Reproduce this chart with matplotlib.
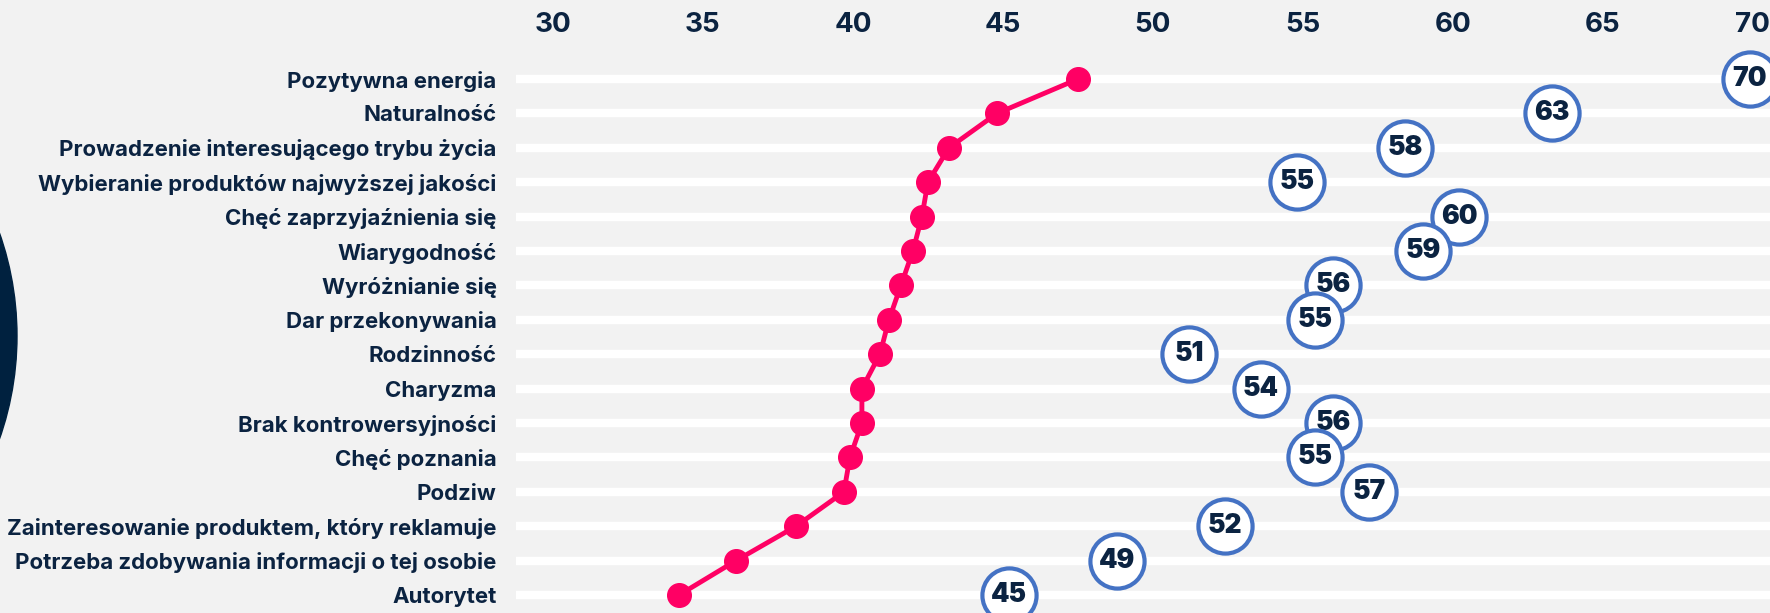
import matplotlib
matplotlib.use('Agg')
import matplotlib.pyplot as plt
from matplotlib.patches import Circle
from matplotlib.transforms import ScaledTranslation

plt.rcParams['font.family'] = ['Inter', 'DejaVu Sans']

categories = [
    "Pozytywna energia",
    "Naturalność",
    "Prowadzenie interesującego trybu życia",
    "Wybieranie produktów najwyższej jakości",
    "Chęć zaprzyjaźnienia się",
    "Wiarygodność",
    "Wyróżnianie się",
    "Dar przekonywania",
    "Rodzinność",
    "Charyzma",
    "Brak kontrowersyjności",
    "Chęć poznania",
    "Podziw",
    "Zainteresowanie produktem, który reklamuje",
    "Potrzeba zdobywania informacji o tej osobie",
    "Autorytet",
]
pink_values = [47.5, 44.8, 43.2, 42.5, 42.3, 42.0, 41.6, 41.2,
               40.9, 40.3, 40.3, 39.9, 39.7, 38.1, 36.1, 34.2]
blue_values = [69.9, 63.3, 58.4, 54.8, 60.2, 59.0, 56.0, 55.4,
               51.2, 53.6, 56.0, 55.4, 57.2, 52.4, 48.8, 45.2]
x_ticks = [30, 35, 40, 45, 50, 55, 60, 65, 70]

navy = '#0b2341'
pink = '#ff0064'
blue = '#4472c4'
bg = '#f2f2f2'

fig = plt.figure(figsize=(17.7, 6.13), dpi=100, facecolor=bg)
ax = fig.add_axes([516 / 1770, 0, 1 - 516 / 1770, (613 - 45) / 613])
ax.set_facecolor(bg)

rows = list(range(len(categories)))

# white row bars
ax.set_yticks(rows)
ax.set_yticklabels(categories, fontsize=16, fontweight='bold', color=navy)
ax.grid(axis='y', color='white', linewidth=6)
ax.grid(axis='x', visible=False)
ax.set_axisbelow(True)

# labels sit a little above the bars
shift = ScaledTranslation(0, 3 / 100, fig.dpi_scale_trans)
for lab in ax.get_yticklabels():
    lab.set_transform(lab.get_transform() + shift)

ax.plot(pink_values, rows, color=pink, linewidth=3.5, marker='o',
        markersize=17, zorder=5)

for i, v in enumerate(blue_values):
    ax.plot(v, i, 'o', markersize=39, markerfacecolor='white',
            markeredgecolor=blue, markeredgewidth=3, zorder=10 + 2 * i,
            clip_on=False)
    ax.text(v, i, f"{v:.0f}", ha='center', va='center', fontsize=19,
            fontweight='black', color=navy, zorder=11 + 2 * i)

ax.set_xlim(28.77, 70.57)
ax.set_ylim(15.52, -0.99)
ax.set_xticks(x_ticks)
ax.xaxis.tick_top()
ax.tick_params(axis='x', length=0, pad=5, labelsize=20, labelcolor=navy)
ax.tick_params(axis='y', length=0, pad=14)
for lab in ax.get_xticklabels():
    lab.set_fontweight('bold')
for s in ax.spines.values():
    s.set_visible(False)

# dark decorative circle at the left edge
fig.add_artist(Circle((-2.945, 6.13 - 3.36), 3.115, color='#00213f',
                      transform=fig.dpi_scale_trans))

fig.savefig('out.png', dpi=100, facecolor=bg)
